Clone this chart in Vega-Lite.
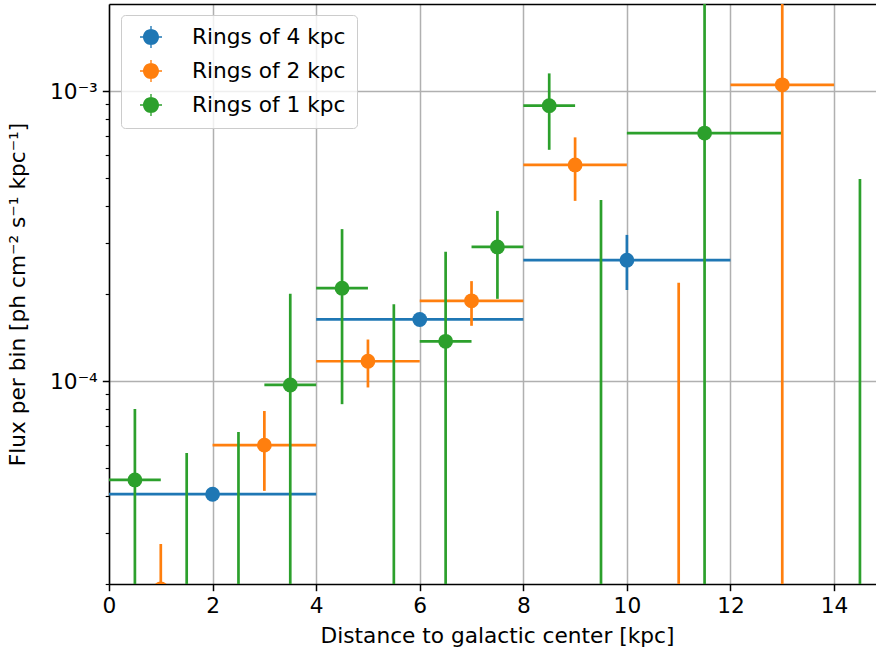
{
  "$schema": "https://vega.github.io/schema/vega-lite/v6.json",
  "width": 767,
  "height": 580,
  "autosize": "none",
  "padding": {"left": 109, "top": 4, "right": 0, "bottom": 73},
  "background": "white",
  "datasets": {
    "rings": [
      {"series": "Rings of 4 kpc", "r": 2, "rlo": 0, "rhi": 4, "flux": 4.07e-5, "flo": 3.9e-5, "fhi": 4.25e-5},
      {"series": "Rings of 4 kpc", "r": 6, "rlo": 4, "rhi": 8, "flux": 1.63e-4, "flo": 1.56e-4, "fhi": 1.7e-4},
      {"series": "Rings of 4 kpc", "r": 10, "rlo": 8, "rhi": 12, "flux": 2.61e-4, "flo": 2.06e-4, "fhi": 3.19e-4},

      {"series": "Rings of 2 kpc", "r": 1, "rlo": 0, "rhi": 2, "flux": 1.92e-5, "flo": 1e-7, "fhi": 2.74e-5},
      {"series": "Rings of 2 kpc", "r": 3, "rlo": 2, "rhi": 4, "flux": 6.01e-5, "flo": 4.18e-5, "fhi": 7.88e-5},
      {"series": "Rings of 2 kpc", "r": 5, "rlo": 4, "rhi": 6, "flux": 1.17e-4, "flo": 9.5e-5, "fhi": 1.39e-4},
      {"series": "Rings of 2 kpc", "r": 7, "rlo": 6, "rhi": 8, "flux": 1.89e-4, "flo": 1.55e-4, "fhi": 2.21e-4},
      {"series": "Rings of 2 kpc", "r": 9, "rlo": 8, "rhi": 10, "flux": 5.56e-4, "flo": 4.18e-4, "fhi": 6.92e-4},
      {"series": "Rings of 2 kpc", "r": 11, "rlo": 10, "rhi": 12, "flux": 1.0e-5, "flo": 1e-7, "fhi": 2.18e-4},
      {"series": "Rings of 2 kpc", "r": 13, "rlo": 12, "rhi": 14, "flux": 1.05e-3, "flo": 1e-7, "fhi": 1e-2},

      {"series": "Rings of 1 kpc", "r": 0.5, "rlo": 0, "rhi": 1, "flux": 4.56e-5, "flo": 1e-7, "fhi": 8.0e-5},
      {"series": "Rings of 1 kpc", "r": 1.5, "rlo": 1, "rhi": 2, "flux": 1.0e-5, "flo": 1e-7, "fhi": 5.65e-5},
      {"series": "Rings of 1 kpc", "r": 2.5, "rlo": 2, "rhi": 3, "flux": 1.0e-5, "flo": 1e-7, "fhi": 6.67e-5},
      {"series": "Rings of 1 kpc", "r": 3.5, "rlo": 3, "rhi": 4, "flux": 9.69e-5, "flo": 1e-7, "fhi": 2.0e-4},
      {"series": "Rings of 1 kpc", "r": 4.5, "rlo": 4, "rhi": 5, "flux": 2.09e-4, "flo": 8.32e-5, "fhi": 3.34e-4},
      {"series": "Rings of 1 kpc", "r": 5.5, "rlo": 5, "rhi": 6, "flux": 1.0e-5, "flo": 1e-7, "fhi": 1.84e-4},
      {"series": "Rings of 1 kpc", "r": 6.5, "rlo": 6, "rhi": 7, "flux": 1.37e-4, "flo": 1e-7, "fhi": 2.79e-4},
      {"series": "Rings of 1 kpc", "r": 7.5, "rlo": 7, "rhi": 8, "flux": 2.9e-4, "flo": 1.92e-4, "fhi": 3.86e-4},
      {"series": "Rings of 1 kpc", "r": 8.5, "rlo": 8, "rhi": 9, "flux": 8.9e-4, "flo": 6.27e-4, "fhi": 1.15e-3},
      {"series": "Rings of 1 kpc", "r": 9.5, "rlo": 9, "rhi": 10, "flux": 1.0e-5, "flo": 1e-7, "fhi": 4.21e-4},
      {"series": "Rings of 1 kpc", "r": 11.5, "rlo": 10, "rhi": 13, "flux": 7.16e-4, "flo": 1e-7, "fhi": 1e-2},
      {"series": "Rings of 1 kpc", "r": 14.5, "rlo": 14, "rhi": 15, "flux": 1.0e-5, "flo": 1e-7, "fhi": 4.97e-4}
    ]
  },
  "data": {"name": "rings"},
  "config": {
    "view": {"stroke": null},
    "font": "DejaVu Sans",
    "axis": {
      "labelFont": "DejaVu Sans",
      "labelFontSize": 21.7,
      "labelColor": "black",
      "titleFont": "DejaVu Sans",
      "titleFontSize": 21.7,
      "titleFontWeight": "normal",
      "titleColor": "black",
      "domainColor": "black",
      "domainWidth": 1.5,
      "tickColor": "black",
      "tickWidth": 1.5,
      "tickSize": 6.7,
      "labelPadding": 5,
      "gridColor": "#b0b0b0",
      "gridWidth": 1.5,
      "labelFlush": false,
      "labelOverlap": false
    }
  },
  "layer": [
    {
      "mark": {"type": "rule", "strokeWidth": 2.7, "clip": true},
      "encoding": {
        "x": {
          "field": "rlo", "type": "quantitative",
          "scale": {"domain": [0, 14.81], "nice": false, "zero": false},
          "axis": {
            "title": "Distance to galactic center [kpc]",
            "values": [0, 2, 4, 6, 8, 10, 12, 14],
            "format": "d",
            "titlePadding": 8,
            "titleX": 388
          }
        },
        "x2": {"field": "rhi"},
        "y": {
          "field": "flux", "type": "quantitative",
          "scale": {"type": "log", "domain": [1.9953e-5, 1.9953e-3], "nice": false},
          "axis": {
            "title": "Flux per bin [ph cm⁻² s⁻¹ kpc⁻¹]",
            "values": [2e-5, 3e-5, 4e-5, 5e-5, 6e-5, 7e-5, 8e-5, 9e-5, 1e-4, 2e-4, 3e-4, 4e-4, 5e-4, 6e-4, 7e-4, 8e-4, 9e-4, 1e-3],
            "labelExpr": "datum.value == 0.001 ? '10⁻³' : datum.value == 0.0001 ? '10⁻⁴' : ''",
            "tickSize": {"condition": {"test": "datum.value == 0.001 || datum.value == 0.0001", "value": 6.7}, "value": 3.8},
            "tickWidth": {"condition": {"test": "datum.value == 0.001 || datum.value == 0.0001", "value": 1.5}, "value": 1.15},
            "gridOpacity": {"condition": {"test": "datum.value == 0.001 || datum.value == 0.0001", "value": 1}, "value": 0},
            "titlePadding": 20
          }
        },
        "stroke": {
          "field": "series", "type": "nominal",
          "scale": {"range": ["#2ca02c", "#ff7f0e", "#1f77b4"]},
          "legend": null
        }
      }
    },
    {
      "mark": {"type": "rule", "strokeWidth": 2.7, "clip": true},
      "encoding": {
        "x": {
          "field": "r", "type": "quantitative",
          "axis": {"orient": "top", "labels": false, "ticks": false, "grid": false, "title": null, "domain": true}
        },
        "y": {"field": "flo", "type": "quantitative", "axis": null},
        "y2": {"field": "fhi"},
        "stroke": {"field": "series", "type": "nominal", "legend": null}
      }
    },
    {
      "mark": {"type": "point", "filled": true, "opacity": 1, "size": 220, "shape": "circle", "clip": true},
      "encoding": {
        "x": {"field": "r", "type": "quantitative", "axis": null},
        "y": {"field": "flux", "type": "quantitative", "axis": null},
        "color": {
          "field": "series", "type": "nominal",
          "scale": {
            "domain": ["Rings of 4 kpc", "Rings of 2 kpc", "Rings of 1 kpc"],
            "range": ["#1f77b4", "#ff7f0e", "#2ca02c"]
          },
          "legend": {
            "title": null,
            "orient": "none",
            "legendX": 12,
            "legendY": 11,
            "padding": 11,
            "fillColor": "rgba(255,255,255,0.8)",
            "strokeColor": "#cccccc",
            "cornerRadius": 4,
            "labelFont": "DejaVu Sans",
            "labelFontSize": 21.7,
            "labelColor": "black",
            "labelOffset": 30,
            "symbolOffset": 8,
            "symbolSize": 484,
            "symbolStrokeWidth": 0,
            "symbolOpacity": 1,
            "rowPadding": 11,
            "symbolType": "M-0.73,0 A0.73,0.73 0 1,1 0.73,0 A0.73,0.73 0 1,1 -0.73,0 Z M-1,-0.062 L1,-0.062 L1,0.062 L-1,0.062 Z M-0.062,-1 L0.062,-1 L0.062,1 L-0.062,1 Z"
          }
        }
      }
    }
  ],
  "resolve": {"axis": {"x": "independent", "y": "independent"}}
}
